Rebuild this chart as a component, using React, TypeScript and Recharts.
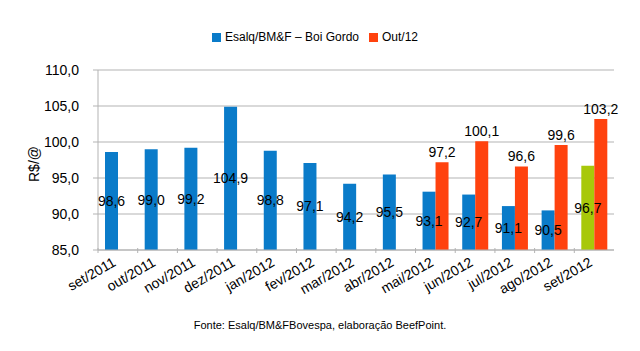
import React from "react";
import { Bar, BarChart, CartesianGrid, Cell, LabelList, Legend, XAxis, YAxis } from "recharts";

const months = [
  "set/2011", "out/2011", "nov/2011", "dez/2011", "jan/2012", "fev/2012", "mar/2012",
  "abr/2012", "mai/2012", "jun/2012", "jul/2012", "ago/2012", "set/2012",
];
const esalq = [98.6, 99.0, 99.2, 104.9, 98.8, 97.1, 94.2, 95.5, 93.1, 92.7, 91.1, 90.5, 96.7];
const out12 = [null, null, null, null, null, null, null, null, 97.2, 100.1, 96.6, 99.6, 103.2];
const yTicks = [85, 90, 95, 100, 105, 110];

const data = months.map((month, i) => ({ month, esalq: esalq[i], out12: out12[i] }));

const BLUE = "#0a7bc9";
const RED = "#ff420e";
const GREEN = "#a8c80a";
const GRID = "#b3b3b3";
const FONT = "'Liberation Sans', Arial, sans-serif";

const fmt = (v: any) => (v == null ? "" : Number(v).toFixed(1).replace(".", ","));

// plot is 516px wide over 13 categories
const BAND = 516 / 13;

function MonthTick(props: any) {
  const { x, y, payload } = props;
  return (
    <g>
      <line x1={x - BAND / 2} x2={x - BAND / 2} y1={y - 10} y2={y - 5} stroke={GRID} />
      <text
        x={x - 1}
        y={y + 7}
        textAnchor="end"
        fontSize={14}
        fontFamily={FONT}
        fill="#000"
        transform={`rotate(-30, ${x - 1}, ${y + 7})`}
      >
        {payload.value}
      </text>
    </g>
  );
}

function AxisTitle(props: any) {
  const { viewBox } = props;
  const cx = 39;
  const cy = viewBox.y + viewBox.height / 2 + 4;
  return (
    <text x={cx} y={cy} textAnchor="middle" fontSize={14} fontFamily={FONT} fill="#000" transform={`rotate(-90, ${cx}, ${cy})`}>
      R$/@
    </text>
  );
}

export default function App() {
  return (
    <div style={{ position: "relative", width: 640, height: 351, fontFamily: FONT }}>
      <style>{`body{margin:0}`}</style>
      <BarChart
        width={640}
        height={351}
        data={data}
        margin={{ top: 56, right: 26, bottom: 0, left: 2 }}
        barGap={0}
        barSize={13}
      >
        <CartesianGrid vertical={false} stroke={GRID} />
        <Legend
          verticalAlign="top"
          align="center"
          iconType="square"
          iconSize={9}
          wrapperStyle={{ position: "absolute", top: 30, left: 0, width: 640, fontSize: 12, color: "#000" }}
          formatter={(value) => <span style={{ color: "#000" }}>{value}</span>}
        />
        <XAxis
          dataKey="month"
          interval={0}
          tickLine={false}
          axisLine={{ stroke: GRID }}
          tick={<MonthTick />}
          height={101}
        />
        <YAxis
          domain={[85, 110]}
          ticks={yTicks}
          tickFormatter={fmt}
          width={96}
          tickSize={5}
          tickMargin={14}
          axisLine={{ stroke: GRID }}
          tickLine={{ stroke: GRID }}
          tick={{ fill: "#000", fontSize: 14, fontFamily: FONT }}
          label={<AxisTitle />}
        />
        <YAxis
          yAxisId="r"
          orientation="right"
          domain={[85, 110]}
          ticks={yTicks}
          width={0}
          tick={false}
          tickLine={false}
          axisLine={{ stroke: GRID }}
        />
        <Bar dataKey="esalq" name="Esalq/BM&F – Boi Gordo" fill={BLUE} isAnimationActive={false}>
          {data.map((_, i) => (
            <Cell key={i} fill={i === data.length - 1 ? GREEN : BLUE} />
          ))}
          <LabelList dataKey="esalq" position="center" formatter={fmt} fill="#000" fontSize={14} fontFamily={FONT} />
        </Bar>
        <Bar dataKey="out12" name="Out/12" fill={RED} isAnimationActive={false}>
          <LabelList dataKey="out12" position="top" formatter={fmt} fill="#000" fontSize={14} fontFamily={FONT} />
        </Bar>
      </BarChart>
      <div
        style={{
          position: "absolute",
          top: 319,
          left: 0,
          width: 640,
          textAlign: "center",
          fontSize: 11,
          color: "#000",
        }}
      >
        Fonte: Esalq/BM&amp;FBovespa, elaboração BeefPoint.
      </div>
    </div>
  );
}
